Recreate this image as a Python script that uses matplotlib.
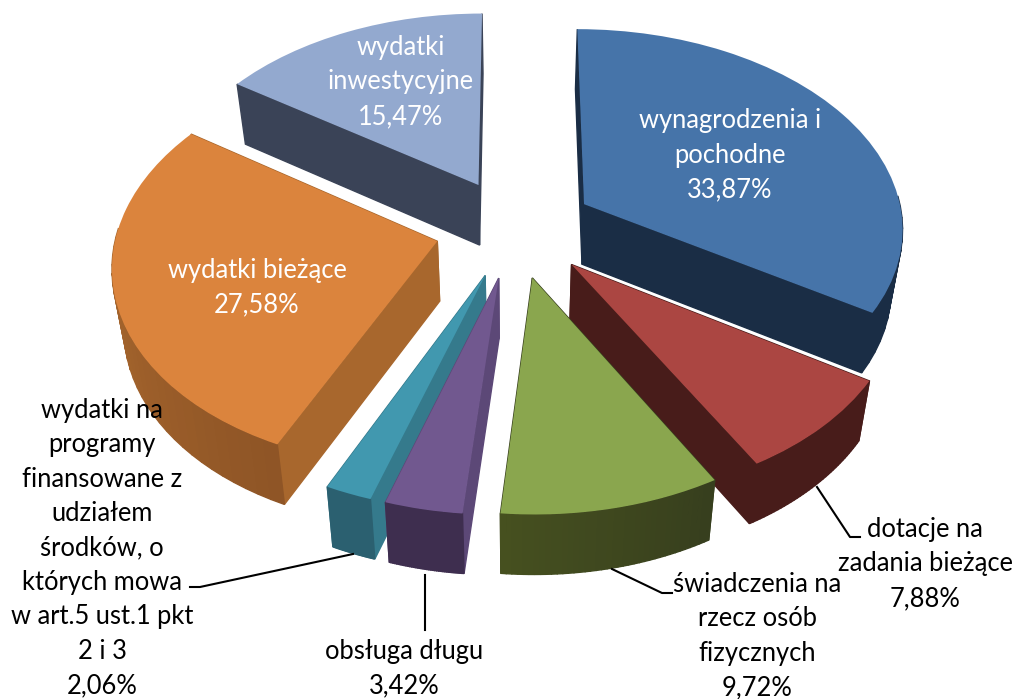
import numpy as np
import matplotlib
matplotlib.use("Agg")
import matplotlib.pyplot as plt
from matplotlib.patches import Polygon
from matplotlib.transforms import Transform
from matplotlib.colors import to_rgb

# data
names = ["wynagrodzenia i\npochodne", "dotacje na\nzadania bieżące",
         "świadczenia na\nrzecz osób\nfizycznych", "obsługa długu",
         "wydatki na\nprogramy\nfinansowane z\nudziałem\nśrodków, o\nktórych mowa\nw art.5 ust.1 pkt\n2 i 3",
         "wydatki bieżące", "wydatki\ninwestycyjne"]
values = [33.87, 7.88, 9.72, 3.42, 2.06, 27.58, 15.47]

# styles, same order as the data
top_colors = ["#4674A9", "#AB4642", "#8AA64E", "#71588F", "#4198AF", "#DB843D", "#93A9CF"]
inner_colors = ["#1A2D45", "#481C1A", "#373F1E", "#5C4877", "#357A8C", "#A8672D", "#3A4357"]
outer_start = ["#1A2D45", "#481C1A", "#46501F", "#3E2E4F", "#2B6070", "#B87333", "#3A4357"]
outer_end = ["#1A2D45", "#481C1A", "#373F1E", "#3E2E4F", "#2B6070", "#8F5526", "#3A4357"]
draw_order = [6, 0, 5, 1, 4, 3, 2]
label_pos = [(730, 155), (925, 564), (757, 636), (404, 669), (102, 548), (257, 288), (401, 82)]
label_col = ["white", "black", "black", "black", "black", "white", "white"]

CX, CY = 515, 228
RX, RY = 320, 199
P = 0.109
DEPTH = 60
SHRINK = 0.03


class Tilt(Transform):
    input_dims = 2
    output_dims = 2
    is_affine = False

    def __init__(self, z=0.0):
        super().__init__()
        self.z = z

    def transform_non_affine(self, values):
        values = np.asarray(values, dtype=float)
        f = 1 / (1 + P * values[:, 1])
        sx = RX * values[:, 0] * f * (1 - SHRINK * self.z)
        sy = -RY * values[:, 1] * f + DEPTH * self.z
        return np.column_stack([CX + sx, CY + sy])


def quad(ax, p, q, color, zorder):
    verts = np.vstack([Tilt(0).transform(np.array([p, q])),
                       Tilt(1).transform(np.array([q, p]))])
    ax.add_patch(Polygon(verts, closed=True, fc=color, ec=color, lw=1.0, zorder=zorder))


fig = plt.figure(figsize=(10.16, 6.99), dpi=100)
ax = fig.add_axes([0, 0, 1, 1])
wedges, _ = ax.pie(values, colors=top_colors, startangle=90, counterclock=False,
                   explode=[0.25] * len(values))
ax.set_aspect("auto")
ax.set_xlim(0, 1016)
ax.set_ylim(699, 0)
ax.axis("off")

for rank, i in enumerate(draw_order):
    w = wedges[i]
    base = rank * 10
    c = np.array(w.center)
    a1, a2 = np.radians(w.theta1), np.radians(w.theta2)
    e1 = c + [np.cos(a1), np.sin(a1)]
    e2 = c + [np.cos(a2), np.sin(a2)]
    quad(ax, c, e1, inner_colors[i], base + 1)
    quad(ax, c, e2, inner_colors[i], base + 1)
    angles = np.linspace(w.theta1, w.theta2, 40)
    col0, col1 = np.array(to_rgb(outer_start[i])), np.array(to_rgb(outer_end[i]))
    for k in range(len(angles) - 1):
        t0, t1 = np.radians(angles[k]), np.radians(angles[k + 1])
        # back part of the rim is hidden behind the top face
        if np.sin((t0 + t1) / 2) > 0.05:
            continue
        p0 = c + [np.cos(t0), np.sin(t0)]
        p1 = c + [np.cos(t1), np.sin(t1)]
        mix = k / (len(angles) - 2)
        quad(ax, p0, p1, tuple(col0 + (col1 - col0) * mix), base + 2)
    w.set_transform(Tilt(0) + ax.transData)
    w.set_zorder(base + 3)
    w.set_edgecolor("none")

# labels
for name, v, pos, col in zip(names, values, label_pos, label_col):
    txt = name + "\n" + f"{v:.2f}".replace(".", ",") + "%"
    ax.text(pos[0], pos[1], txt, color=col, ha="center", va="center", fontsize=18.4,
            family="Lato", linespacing=1.47, zorder=200)

# leader lines
leaders = [([817, 850, 860], [487, 537, 537]),
           ([612, 662, 672], [569, 593, 593]),
           ([425, 425], [575, 630]),
           ([353, 200, 190], [554, 587, 587])]
for lx, ly in leaders:
    ax.plot(lx, ly, color="black", lw=1.5, zorder=150)

fig.savefig("out.png", dpi=100)
